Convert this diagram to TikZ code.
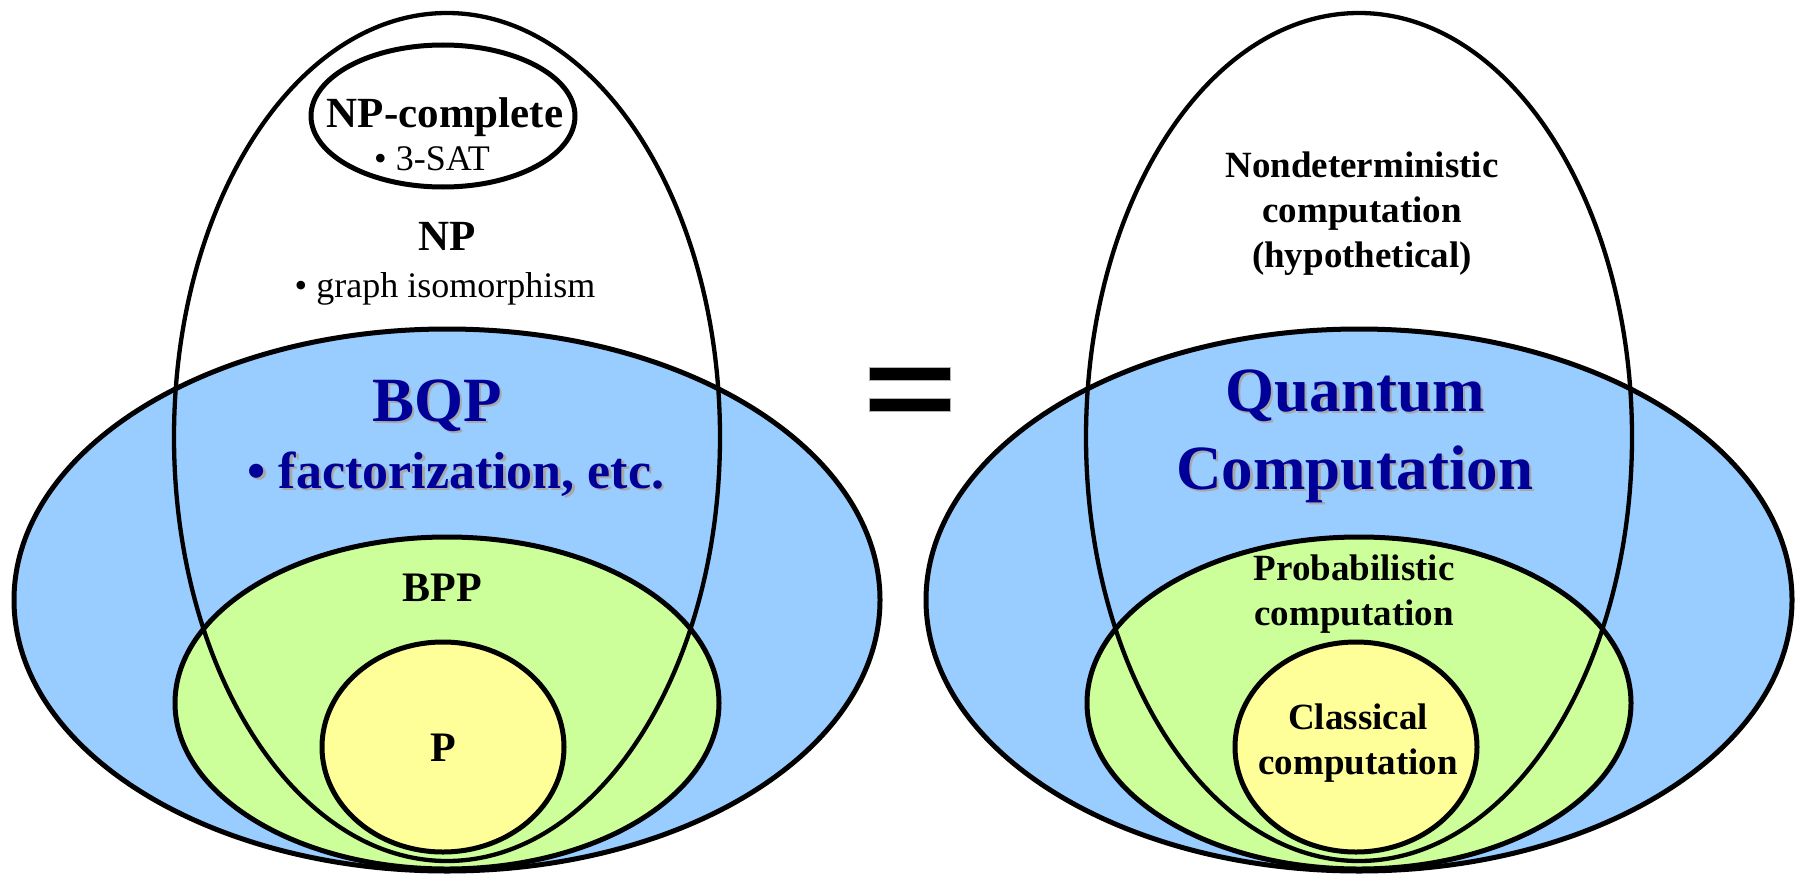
\documentclass[tikz,border=0pt]{standalone}
\usepackage{fontspec}
\setmainfont{Liberation Serif}
\definecolor{bqpblue}{HTML}{99CCFF}
\definecolor{bppgreen}{HTML}{CCFF99}
\definecolor{pyellow}{HTML}{FFFF99}
\definecolor{textblue}{HTML}{000099}
\definecolor{shadowgray}{HTML}{A8A8A8}
\newcommand{\fsz}[2]{\fontsize{#1}{#2}\selectfont}
\begin{document}
\begin{tikzpicture}[x=1pt,y=-1pt,
  region/.style={draw=black, line width=5pt},
  npline/.style={draw=black, line width=4.3pt},
  lbl/.style={inner sep=0pt, outer sep=0pt, text=black},
  bluelbl/.style={inner sep=0pt, outer sep=0pt, text=textblue},
  shadowlbl/.style={inner sep=0pt, outer sep=0pt, text=shadowgray},
  bar/.style={rectangle, fill=black, draw=gray!60, line width=0.8pt, minimum width=81pt, minimum height=13pt, inner sep=0pt}
]
\useasboundingbox (0,0) rectangle (1801,875);

% ---------- left diagram ----------
\draw[region, fill=bqpblue] (447,600) ellipse [x radius=433, y radius=271];
\draw[region, fill=bppgreen] (447,703) ellipse [x radius=272, y radius=166];
\draw[region, fill=pyellow] (443,747) ellipse [x radius=121, y radius=105];
\draw[npline] (447,437) ellipse [x radius=273, y radius=424];
\draw[region] (443,116) ellipse [x radius=132, y radius=71];

\node[lbl, anchor=base, font=\fsz{43}{50}\bfseries] (npc) at (445,127) {NP-complete};
\node[lbl, anchor=base, font=\fsz{36}{42}] (sat) at (432,170) {\textbullet\ 3-SAT};
\node[lbl, anchor=base, font=\fsz{43}{50}\bfseries] (np) at (447,250) {NP};
\node[lbl, anchor=base, font=\fsz{36}{42}] (gi) at (445,297) {\textbullet\ graph isomorphism};
\node[shadowlbl, anchor=base, font=\fsz{63}{77}\bfseries] (bqpsh) at (439.5,423.5) {BQP};
\node[bluelbl, anchor=base, font=\fsz{63}{77}\bfseries] (bqp) at (437,421) {BQP};
\node[shadowlbl, anchor=base, font=\fsz{52}{60}\bfseries] (factsh) at (458.5,490.5) {\textbullet\ factorization, etc.};
\node[bluelbl, anchor=base, font=\fsz{52}{60}\bfseries] (fact) at (456,488) {\textbullet\ factorization, etc.};
\node[lbl, anchor=base, font=\fsz{42}{50}\bfseries] (bpp) at (442,601) {BPP};
\node[lbl, anchor=base, font=\fsz{42}{50}\bfseries] (p) at (443,761) {P};

% ---------- equals sign ----------
\node[bar] (eqtop) at (909.5,373.5) {};
\node[bar] (eqbot) at (909.5,404.5) {};

% ---------- right diagram ----------
\draw[region, fill=bqpblue] (1359,600) ellipse [x radius=433, y radius=271];
\draw[region, fill=bppgreen] (1359,703) ellipse [x radius=272, y radius=166];
\draw[region, fill=pyellow] (1356,747) ellipse [x radius=121, y radius=105];
\draw[npline] (1359,437) ellipse [x radius=273, y radius=424];

\node[lbl, align=center, font=\fsz{37}{45}\bfseries] (nondet) at (1362,214) {Nondeterministic\\computation\\(hypothetical)};
\node[shadowlbl, align=center, font=\fsz{63}{78}\bfseries] (qcsh) at (1357.5,438.5) {Quantum\\Computation};
\node[bluelbl, align=center, font=\fsz{63}{78}\bfseries] (qc) at (1355,436) {Quantum\\Computation};
\node[lbl, align=center, font=\fsz{37}{45}\bfseries] (prob) at (1354,594) {Probabilistic\\computation};
\node[lbl, align=center, font=\fsz{37}{45}\bfseries] (classical) at (1358,743) {Classical\\computation};
\end{tikzpicture}
\end{document}
